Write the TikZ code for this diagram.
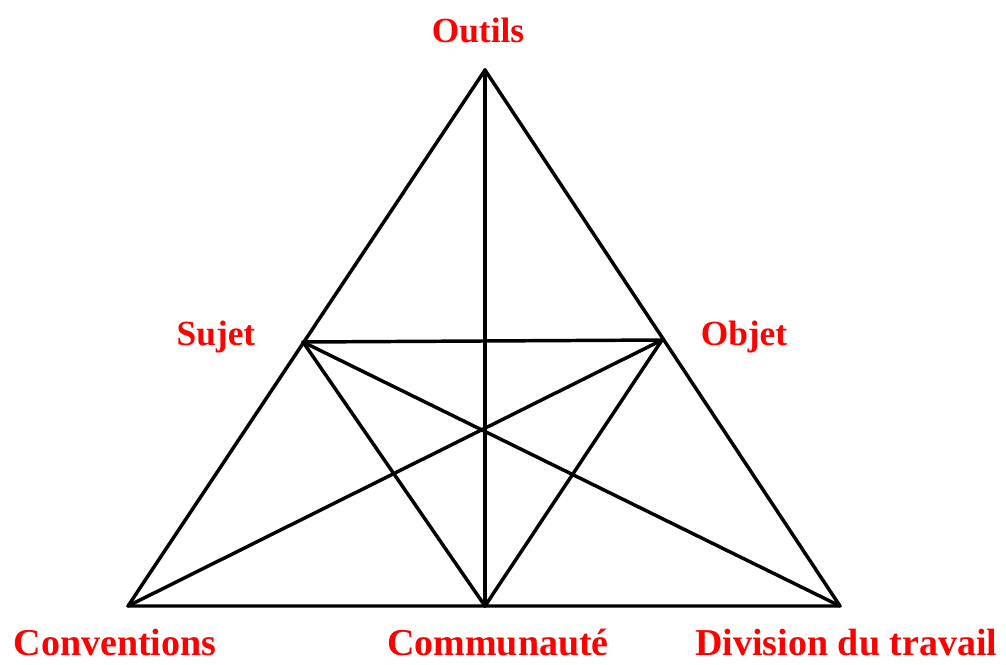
\documentclass[tikz,border=0pt]{standalone}
\usepackage{fontspec}
\setmainfont{Liberation Serif}
\usepackage{xcolor}
\usetikzlibrary{positioning, calc}

\begin{document}
\begin{tikzpicture}[
    x=0.75pt, y=-0.75pt,
    line width=2.6pt,
    line cap=round, line join=round,
    pole/.style={font=\fontsize{26.5}{30}\selectfont\bfseries, text=red, inner sep=0pt, anchor=base},
    basepole/.style={font=\fontsize{28.5}{32}\selectfont\bfseries, text=red, inner sep=0pt},
]
    \useasboundingbox (0,0) rectangle (1006,664);

    % Vertices
    \coordinate (outils) at (485,70);
    \coordinate (sujet) at (303,342);
    \coordinate (objet) at (662,340);
    \coordinate (conv) at (128,606);
    \coordinate (comm) at (485,606);
    \coordinate (div) at (840,606);

    % Labels
    \node[pole] (lOutils) at (478,42) {Outils};
    \node[pole] (lSujet) at (216,345) {Sujet};
    \node[pole] (lObjet) at (744,345) {Objet};
    \node[basepole, anchor=base west] (lConv) at (12,655) {Conventions};
    \node[basepole, anchor=base] (lComm) at (498,655) {Communauté};
    \node[basepole, anchor=base east] (lDiv) at (999,655) {Division du travail};

    % Outer triangle
    \draw (outils) -- (conv) -- (div) -- cycle;

    % Inner lines
    \draw (outils) -- (comm);
    \draw (sujet) -- (objet);
    \draw (sujet) -- (comm) -- (objet);
    \draw (sujet) -- (div);
    \draw (objet) -- (conv);
\end{tikzpicture}
\end{document}
